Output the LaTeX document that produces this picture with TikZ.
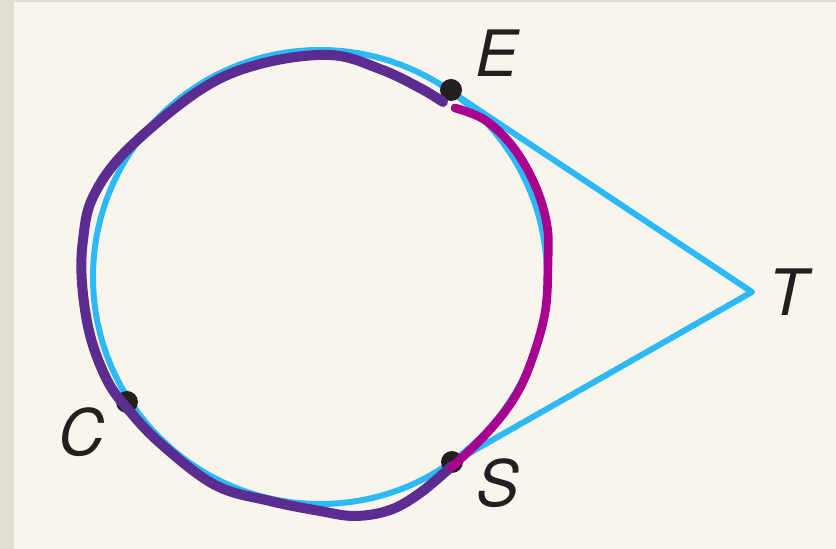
\documentclass[tikz,border=0pt]{standalone}
\usepackage{fontspec}
\setmainfont{TeX Gyre Heros}
\usepackage{tikz}
\usetikzlibrary{positioning}
\definecolor{paperBg}{HTML}{F9F5EC}
\definecolor{edgeGray}{HTML}{E3DED4}
\definecolor{skyBlue}{HTML}{2DB8F6}
\definecolor{arcPurple}{HTML}{5B2D90}
\definecolor{arcMagenta}{HTML}{A8008F}
\definecolor{inkBlack}{HTML}{231F20}

\begin{document}
\begin{tikzpicture}[
    x=0.5pt, y=0.5pt,
    font=\fontsize{32}{36}\selectfont\itshape,
    geom/.style={draw=skyBlue, line width=3pt},
    bigarc/.style={draw=arcPurple, line width=5pt, line cap=round, line join=round},
    smallarc/.style={draw=arcMagenta, line width=4.3pt, line cap=round, line join=round},
    pt/.style={circle, fill=inkBlack, inner sep=0pt, minimum size=11pt},
    lbl/.style={text=inkBlack, inner sep=0pt}
]
    % page and left strip
    \fill[edgeGray] (0,0) rectangle (836,-549);
    \fill[paperBg] (14,-2) rectangle (836,-549);
    \useasboundingbox (0,0) rectangle (836,-549);

    % circle and tangents
    \coordinate (O) at (320,-277);
    \coordinate (T) at (752,-292);
    \coordinate (tE) at ([shift={(56.3:227)}]O);
    \coordinate (tS) at ([shift={(-60.3:227)}]O);
    \draw[geom] (O) circle[radius=227];
    \draw[geom, line join=round] (tE) -- (T) -- (tS);

    % points on the circle
    \node[pt] (E) at (451,-90) {};
    \node[pt] (C) at (127,-402) {};
    \node[pt] (S) at (452,-462) {};

    % major arc
    \draw[bigarc] plot[smooth, tension=0.6] coordinates {
        (443,-102) (420,-88) (380,-69) (330,-55) (260,-64) (200,-90)
        (127,-150) (93,-197) (83,-240) (82,-283) (90,-335) (107,-380)
        (127,-408) (160,-443) (215,-485) (270,-501) (320,-511) (355,-516)
        (390,-510) (420,-493) (452,-466)};

    % minor arc
    \draw[smallarc] plot[smooth, tension=0.6] coordinates {
        (455,-108) (485,-120) (513,-147) (535,-185) (547,-225) (548,-263)
        (545,-313) (530,-365) (513,-400) (487,-433) (452,-467)};

    % labels
    \node[lbl] (labE) at (497,-53) {E};
    \node[lbl] (labC) at (82,-432) {C};
    \node[lbl] (labS) at (498,-483) {S};
    \node[lbl] (labT) at (788,-292) {T};
\end{tikzpicture}
\end{document}
